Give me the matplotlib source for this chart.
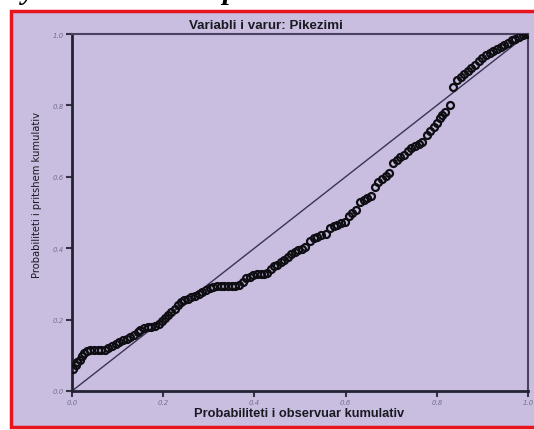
import matplotlib
matplotlib.use("Agg")
import matplotlib.pyplot as plt
from matplotlib.patches import Rectangle

title = "Variabli i varur: Pikezimi"
xlabel = "Probabiliteti i observuar kumulativ"
ylabel = "Probabiliteti i pritshem kumulativ"
tick_vals = [0.0, 0.2, 0.4, 0.6, 0.8, 1.0]
tick_labels = ["0.0", "0.2", "0.4", "0.6", "0.8", "1.0"]

obs_prob = [0.003, 0.008, 0.012, 0.018, 0.022, 0.027, 0.033, 0.040, 0.048, 0.056,
            0.064, 0.072, 0.080, 0.088, 0.096, 0.104, 0.112, 0.120, 0.128, 0.136,
            0.144, 0.150, 0.158, 0.166, 0.174, 0.182, 0.190, 0.197, 0.204, 0.211,
            0.218, 0.225, 0.232, 0.238, 0.246, 0.254, 0.262, 0.270, 0.278, 0.286,
            0.294, 0.302, 0.310, 0.318, 0.326, 0.334, 0.342, 0.350, 0.358, 0.366,
            0.374, 0.382, 0.390, 0.398, 0.406, 0.414, 0.422, 0.428, 0.436, 0.442,
            0.450, 0.458, 0.466, 0.474, 0.480, 0.488, 0.496, 0.504, 0.512, 0.522,
            0.530, 0.538, 0.546, 0.556, 0.566, 0.574, 0.582, 0.590, 0.598, 0.608,
            0.615, 0.622, 0.632, 0.640, 0.648, 0.656, 0.664, 0.672, 0.680, 0.688,
            0.696, 0.704, 0.712, 0.720, 0.728, 0.736, 0.744, 0.752, 0.760, 0.768,
            0.778, 0.786, 0.794, 0.800, 0.806, 0.812, 0.818, 0.829, 0.836, 0.844,
            0.852, 0.860, 0.868, 0.876, 0.884, 0.892, 0.900, 0.908, 0.916, 0.924,
            0.932, 0.940, 0.948, 0.956, 0.964, 0.972, 0.980, 0.988, 0.996, 1.000]
exp_prob = [0.062, 0.072, 0.080, 0.088, 0.098, 0.106, 0.111, 0.114, 0.115, 0.115,
            0.115, 0.116, 0.120, 0.126, 0.132, 0.137, 0.142, 0.147, 0.152, 0.157,
            0.166, 0.172, 0.176, 0.178, 0.179, 0.181, 0.187, 0.196, 0.204, 0.212,
            0.220, 0.229, 0.240, 0.249, 0.254, 0.257, 0.262, 0.266, 0.271, 0.278,
            0.284, 0.288, 0.291, 0.293, 0.294, 0.294, 0.294, 0.294, 0.294, 0.296,
            0.306, 0.316, 0.320, 0.324, 0.327, 0.328, 0.328, 0.330, 0.342, 0.350,
            0.354, 0.360, 0.366, 0.376, 0.384, 0.390, 0.394, 0.398, 0.402, 0.420,
            0.428, 0.432, 0.436, 0.440, 0.456, 0.462, 0.466, 0.470, 0.474, 0.490,
            0.500, 0.508, 0.530, 0.536, 0.540, 0.546, 0.572, 0.585, 0.595, 0.603,
            0.612, 0.640, 0.648, 0.656, 0.662, 0.672, 0.680, 0.686, 0.692, 0.698,
            0.716, 0.728, 0.740, 0.752, 0.764, 0.774, 0.782, 0.800, 0.852, 0.872,
            0.880, 0.888, 0.896, 0.906, 0.914, 0.924, 0.934, 0.940, 0.946, 0.952,
            0.958, 0.964, 0.970, 0.976, 0.982, 0.986, 0.992, 0.996, 0.999, 1.000]

bg = "#c9bde0"
W, H = 534, 431
fig = plt.figure(figsize=(W / 100, H / 100), dpi=100)
fig.patch.set_facecolor("white")

# red framed lavender panel
frame = Rectangle((11 / W, 3 / H), 1.2, (428 - 12) / H, transform=fig.transFigure,
                  facecolor=bg, edgecolor="#e8141e", linewidth=2.5, zorder=-10)
fig.patches.append(frame)

# cut-off heading fragments at the top of the image
fig.text(22 / W, 1.0 + 1 / H, "y", fontsize=21, family="Liberation Serif",
         weight="bold", style="italic", va="baseline", color="black")
fig.text(222 / W, 1.0 + 1 / H, "p", fontsize=21, family="Liberation Serif",
         weight="bold", style="italic", va="baseline", color="black")

ax = fig.add_axes([72 / W, (H - 392) / H, (528 - 72) / W, (392 - 35) / H])
ax.set_zorder(5)
ax.set_facecolor(bg)
ax.set_xlim(0, 1)
ax.set_ylim(0, 1)

ax.plot([0, 1], [0, 1], color="#3a3352", linewidth=1.0, zorder=2)
ax.plot(obs_prob, exp_prob, linestyle="none", marker="o", markersize=5.0,
        markerfacecolor="none", markeredgecolor="#0d0d12", markeredgewidth=1.6, zorder=3)

for side in ["left", "bottom"]:
    ax.spines[side].set_linewidth(2.0)
    ax.spines[side].set_color("#222233")
for side in ["top", "right"]:
    ax.spines[side].set_linewidth(1.5)
    ax.spines[side].set_color("#4a4260")

ax.set_xticks(tick_vals)
ax.set_xticklabels(tick_labels)
ax.set_yticks(tick_vals)
ax.set_yticklabels(tick_labels)
ax.tick_params(direction="out", length=4, width=1.5, color="#333344",
               labelsize=5, labelcolor="#77728a", pad=1.5)
for lbl in ax.get_xticklabels() + ax.get_yticklabels():
    lbl.set_style("italic")

fig.text(266 / W, 1 - 26 / H, title, fontsize=9.6, weight="bold",
         family="Liberation Sans", color="#1a1a22", ha="center", va="center")
fig.text(299 / W, 1 - 414 / H, xlabel, fontsize=9.3, weight="bold",
         family="Liberation Sans", color="#1a1a22", ha="center", va="center")
fig.text(37 / W, 1 - 195 / H, ylabel, fontsize=7.2, rotation=90,
         family="Liberation Sans Narrow", color="#1a1a22", ha="center", va="center")

fig.savefig("out.png", dpi=100, facecolor=fig.get_facecolor())
